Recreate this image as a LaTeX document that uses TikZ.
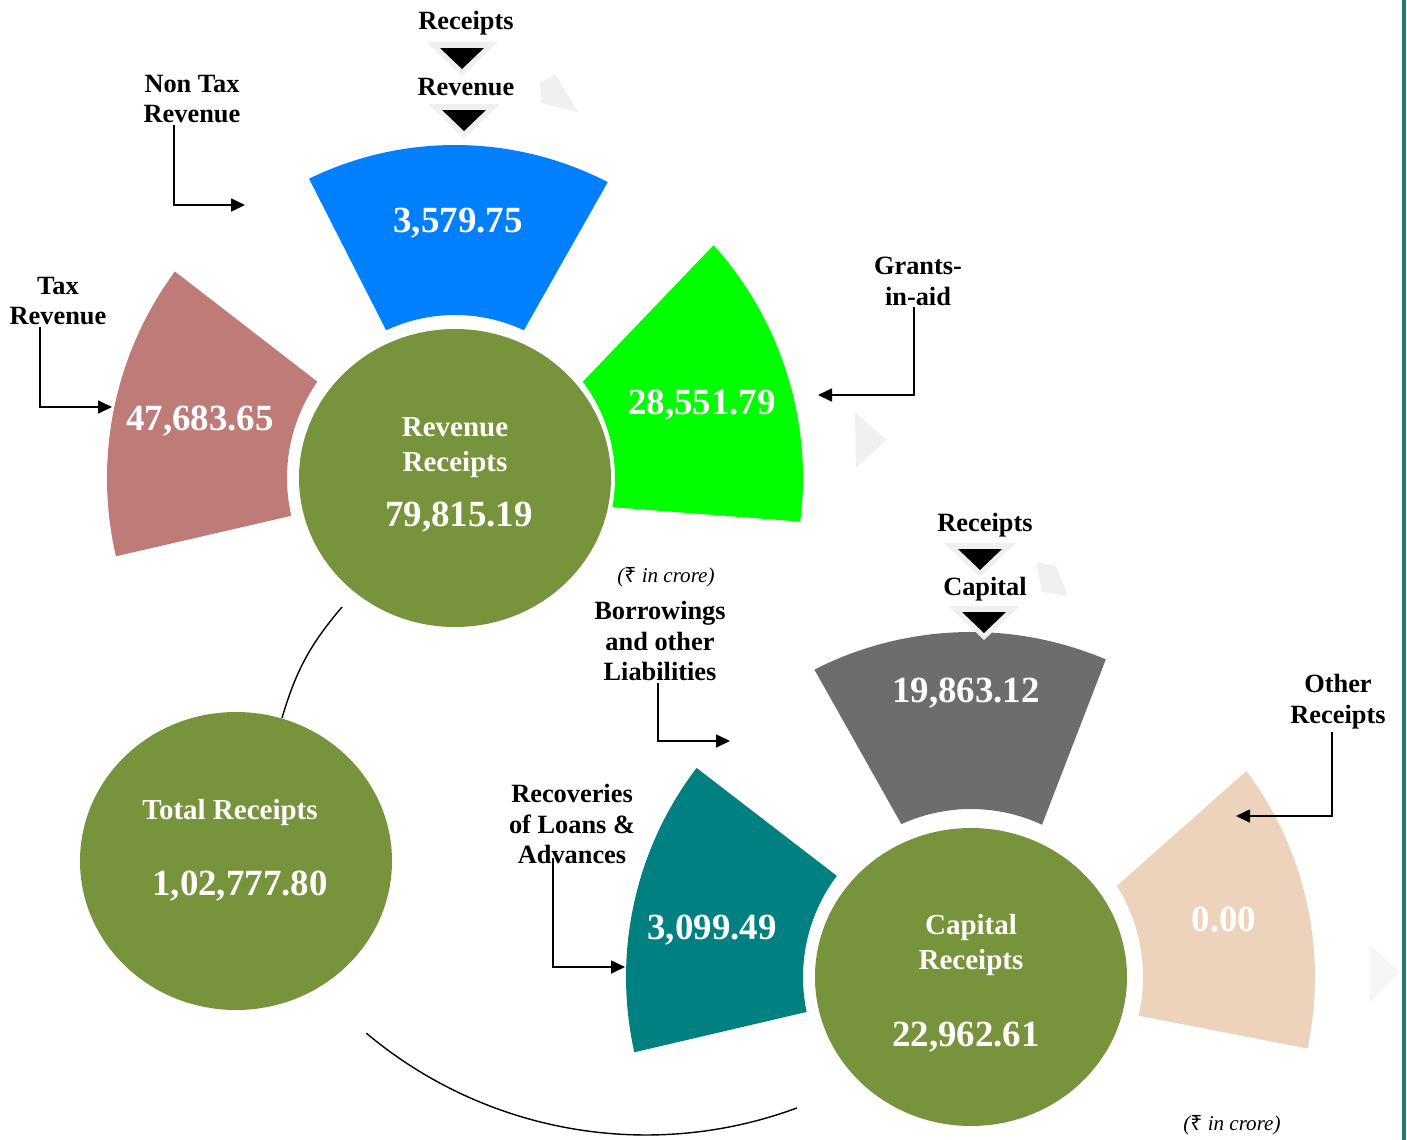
\documentclass[tikz,border=0pt]{standalone}
\usepackage{fontspec}
\setmainfont{Liberation Serif}
\newfontfamily\rupeefont{Noto Sans}
\usetikzlibrary{arrows.meta,calc,shapes.geometric}
\definecolor{olivegreen}{RGB}{119,147,60}
\definecolor{taxpink}{RGB}{190,123,120}
\definecolor{nontaxblue}{RGB}{0,128,255}
\definecolor{grantgreen}{RGB}{0,255,0}
\definecolor{borrowgray}{RGB}{109,109,109}
\definecolor{loanteal}{RGB}{0,128,128}
\definecolor{otherpeach}{RGB}{238,211,188}
\definecolor{edgeteal}{RGB}{30,125,105}
\definecolor{halogray}{RGB}{240,240,240}
\newcommand{\rupee}{{\rupeefont\upshape ₹}}
% hub, inner from/to, outer from/to, inner r, outer r, colour
\newcommand{\drawsector}[8]{
	\fill[#8] ([shift={(#2:#6)}]#1) arc[start angle=#2, end angle=#3, radius=#6]
		-- ([shift={(#5:#7)}]#1) arc[start angle=#5, end angle=#4, radius=#7] -- cycle;
}
\newcommand{\drawpointer}[2]{
	\fill[halogray] (#1-36, #2) -- (#1+36, #2) -- (#1, #2-34) -- cycle;
	\fill[black] (#1-22, #2-6) -- (#1+22, #2-6) -- (#1, #2-27) -- cycle;
}
\tikzset{
	lbl/.style={font=\fontsize{15}{17.6}\selectfont\bfseries, align=center, inner sep=1pt},
	numtxt/.style={font=\fontsize{21}{24}\selectfont\bfseries, text=white, inner sep=0pt},
	hubtxt/.style={font=\fontsize{16.5}{20}\selectfont\bfseries, text=white, align=center, inner sep=0pt},
	unitnote/.style={font=\fontsize{12}{14}\selectfont\itshape, inner sep=0pt},
	hubcircle/.style={ellipse, fill=olivegreen, minimum width=62.4mm, minimum height=59.6mm, inner sep=0pt},
	pointer/.style={line width=1pt, -{Triangle[length=2.8mm, width=2.6mm]}},
}

\begin{document}
\begin{tikzpicture}[x=0.2mm, y=0.2mm]
	\useasboundingbox (0,0) rectangle (1407,-1140);
	% faint background marks
	\fill[halogray] (540,-82) -- (556,-75) -- (578,-112) -- (541,-103) -- cycle;
	\fill[halogray] (855,-412) -- (886,-440) -- (856,-468) -- cycle;
	\fill[halogray!60] (1370,-945) -- (1400,-972) -- (1370,-1002) -- cycle;
	\fill[halogray] (1036,-562) -- (1056,-566) -- (1068,-596) -- (1042,-592) -- cycle;
	% right edge
	\fill[edgeteal] (1402,0) rectangle (1406,-1140);
	% hubs
	\coordinate (revhub) at (455,-478);
	\coordinate (caphub) at (971,-977);
	% revenue sectors
	\drawsector{revhub}{145}{193}{143.6}{193}{168}{348}{taxpink}
	\drawsector{revhub}{65}{115}{62.7}{116}{163}{333}{nontaxblue}
	\drawsector{revhub}{-10.5}{37}{-7.2}{42}{160}{348}{grantgreen}
	% capital sectors
	\drawsector{caphub}{143}{192}{142.7}{192.6}{168}{345}{loanteal}
	\drawsector{caphub}{65}{114.5}{67}{117}{168}{345}{borrowgray}
	\drawsector{caphub}{-13}{32}{-12}{36.8}{172}{344}{otherpeach}
	% circles
	\node[hubcircle] (revc) at (revhub) {};
	\node[hubcircle] (totc) at (236,-861) {};
	\node[hubcircle] (capc) at (caphub) {};
	% linking arcs
	\coordinate (arctop) at (342,-607);
	\coordinate (arcleft) at (282,-718);
	\coordinate (lowhub) at (646,-700);
	\draw[line width=0.8pt] (arctop) to[bend right=12] (arcleft);
	\draw[line width=0.8pt] ([shift={(230:435)}]lowhub) arc[start angle=230, end angle=290.3, radius=435];
	% pointers
	\drawpointer{462}{-42}
	\drawpointer{464}{-104}
	\drawpointer{980}{-543}
	\drawpointer{984}{-606}
	% headings
	\node[lbl] (revtop) at (466,-23) {Receipts};
	\node[lbl] (revmid) at (466,-87) {Revenue};
	\node[lbl] (captop) at (985,-525) {Receipts};
	\node[lbl, fill=white] (capmid) at (985,-589) {Capital};
	% values
	\node[numtxt] (taxval) at (200,-421) {47,683.65};
	\node[numtxt] (nontaxval) at (458,-223) {3,579.75};
	\node[numtxt] (grantval) at (702,-405) {28,551.79};
	\node[numtxt] (borrowval) at (966,-693) {19,863.12};
	\node[numtxt] (loanval) at (712,-930) {3,099.49};
	\node[numtxt] (otherval) at (1224,-919) {0.00};
	% circle texts
	\node[hubtxt] (revname) at (455,-448) {Revenue\\Receipts};
	\node[numtxt] (revsum) at (459,-517) {79,815.19};
	\node[hubtxt] (totname) at (230,-813) {Total Receipts};
	\node[numtxt] (totsum) at (240,-886) {1,02,777.80};
	\node[hubtxt] (capname) at (971,-945) {Capital\\Receipts};
	\node[numtxt] (capsum) at (966,-1037) {22,962.61};
	% units
	\node[unitnote] (revunit) at (666,-577) {(\rupee\ in crore)};
	\node[unitnote] (capunit) at (1232,-1125) {(\rupee\ in crore)};
	% side labels
	\node[lbl] (nontax) at (192,-99) {Non Tax\\Revenue};
	\node[lbl] (tax) at (58,-301) {Tax\\Revenue};
	\node[lbl] (grants) at (918,-281) {Grants-\\in-aid};
	\node[lbl] (borrow) at (660,-641) {Borrowings\\and other\\Liabilities};
	\node[lbl] (other) at (1338,-702) {Other\\Receipts};
	\node[lbl] (recov) at (572,-824) {Recoveries\\of Loans \&\\Advances};
	% arrows
	\coordinate (nontaxend) at (245,-205);
	\coordinate (taxend) at (112,-407);
	\coordinate (grantsend) at (818,-395);
	\coordinate (borrowend) at (730,-741);
	\coordinate (otherend) at (1236,-816);
	\coordinate (recovend) at (625,-967);
	\draw[pointer] ($(nontax.south)+(-18,0)$) |- (nontaxend);
	\draw[pointer] ($(tax.south)+(-18,0)$) |- (taxend);
	\draw[pointer] ($(grants.south)+(-4,0)$) |- (grantsend);
	\draw[pointer] ($(borrow.south)+(-2,0)$) |- (borrowend);
	\draw[pointer] ($(other.south)+(-6,0)$) |- (otherend);
	\draw[pointer] ($(recov.south)+(-19,8)$) |- (recovend);
\end{tikzpicture}
\end{document}
